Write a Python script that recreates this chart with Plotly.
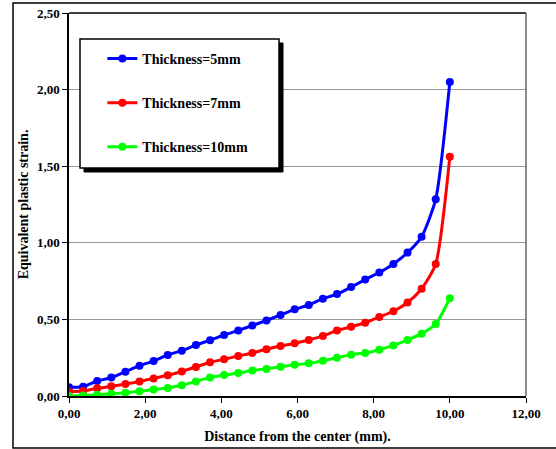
import plotly.graph_objects as go

# Radial distance from the centre (mm): 28 evenly spaced stations from 0 to 10
distance = [i * 10 / 27 for i in range(28)]

strain_5mm = [0.057, 0.060, 0.098, 0.120, 0.159, 0.198, 0.228, 0.268, 0.296, 0.333,
              0.364, 0.398, 0.428, 0.460, 0.493, 0.529, 0.566, 0.594, 0.635, 0.665,
              0.711, 0.760, 0.806, 0.862, 0.936, 1.040, 1.285, 2.050]
strain_7mm = [0.030, 0.033, 0.050, 0.063, 0.078, 0.095, 0.115, 0.135, 0.160, 0.190,
              0.220, 0.240, 0.261, 0.281, 0.305, 0.326, 0.344, 0.366, 0.392, 0.428,
              0.452, 0.478, 0.516, 0.553, 0.610, 0.700, 0.862, 1.562]
strain_10mm = [0.000, 0.004, 0.008, 0.015, 0.021, 0.031, 0.042, 0.053, 0.070, 0.095,
               0.120, 0.137, 0.150, 0.166, 0.177, 0.191, 0.204, 0.213, 0.230, 0.250,
               0.270, 0.281, 0.302, 0.330, 0.366, 0.407, 0.470, 0.638]

series = [
    ("Thickness=5mm", strain_5mm, "#0000FF"),
    ("Thickness=7mm", strain_7mm, "#FF0000"),
    ("Thickness=10mm", strain_10mm, "#00FF00"),
]

FONT = "Liberation Serif"

fig = go.Figure()
for i, (name, vals, color) in enumerate(series):
    fig.add_trace(go.Scatter(
        x=distance, y=vals, name=name, mode="lines+markers",
        line=dict(color=color, width=3, shape="spline", smoothing=0.6),
        marker=dict(color=color, size=8, symbol="circle"),
        legendgroup=f"g{i}",
    ))

tick_font = dict(family=FONT, size=13, color="black", weight="bold")
title_font = dict(family=FONT, size=14, color="black", weight="bold")

fig.update_layout(
    width=556, height=449,
    margin=dict(l=69, r=30, t=13, b=53),
    paper_bgcolor="white", plot_bgcolor="white",
    separators=", ",
    showlegend=True,
    legend=dict(
        x=0.073, y=0.922, xanchor="left", yanchor="top",
        bgcolor="rgba(0,0,0,0)", borderwidth=0,
        font=dict(family=FONT, size=14, color="black", weight="bold"),
        tracegroupgap=23, itemwidth=30,
    ),
    xaxis=dict(
        range=[0, 12], tickvals=[0, 2, 4, 6, 8, 10, 12], tickformat=".2f",
        showgrid=False, zeroline=False, automargin=False,
        showline=True, linecolor="black", linewidth=1.5,
        ticks="outside", ticklen=5, tickcolor="black", tickwidth=1,
        tickfont=tick_font,
        title=dict(text="Distance from the center (mm).", font=title_font, standoff=11),
    ),
    yaxis=dict(
        range=[0, 2.5], tickvals=[0, 0.5, 1, 1.5, 2, 2.5], tickformat=".2f",
        showgrid=True, gridcolor="#999999", gridwidth=1, zeroline=False,
        automargin=False,
        showline=True, linecolor="black", linewidth=1.5,
        ticks="outside", ticklen=5, tickcolor="black", tickwidth=1,
        tickfont=tick_font,
        title=dict(text="Equivalent plastic strain.", font=title_font, standoff=5),
    ),
)

# Plot-area border: black top edge, grey right edge
fig.add_shape(type="line", xref="paper", yref="paper", x0=0, x1=1, y0=1, y1=1,
              line=dict(color="black", width=1.5))
fig.add_shape(type="line", xref="paper", yref="paper", x0=1, x1=1, y0=0, y1=1,
              line=dict(color="#666666", width=1.5))

# Outer chart frame
fig.add_shape(type="rect", xref="paper", yref="paper",
              x0=-0.1225, x1=1.08, y0=-0.1358, y1=1.026,
              line=dict(color="black", width=1.5), fillcolor="rgba(0,0,0,0)")

# Legend box with drop shadow
lx0, lx1 = (80 - 69) / 457, (279 - 69) / 457
ly0, ly1 = (396 - 168) / 383, (396 - 39) / 383
dx, dy = 4 / 457, 4 / 383
fig.add_shape(type="rect", xref="paper", yref="paper",
              x0=lx0 + dx, x1=lx1 + dx, y0=ly0 - dy, y1=ly1 - dy,
              line=dict(color="black", width=1), fillcolor="black", layer="above")
fig.add_shape(type="rect", xref="paper", yref="paper",
              x0=lx0, x1=lx1, y0=ly0, y1=ly1,
              line=dict(color="black", width=1.5), fillcolor="white", layer="above")

fig.write_html("out.html")
